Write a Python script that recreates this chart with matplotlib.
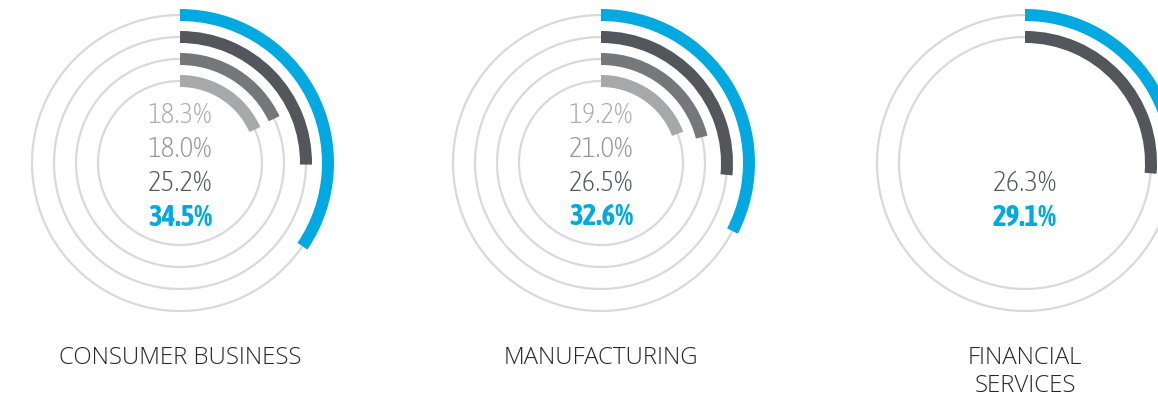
import matplotlib
matplotlib.use("Agg")
import matplotlib.pyplot as plt
import numpy as np

# data: one entry per panel, rings listed from outermost to innermost
categories = ["CONSUMER BUSINESS", "MANUFACTURING", "FINANCIAL\nSERVICES"]
consumer_vals = [34.5, 25.2, 18.0, 18.3]
manufacturing_vals = [32.6, 26.5, 21.0, 19.2]
financial_vals = [29.1, 26.3]
panel_vals = [consumer_vals, manufacturing_vals, financial_vals]

ring_colors = ["#00a9e0", "#53565a", "#75787b", "#a7a8aa"]
text_colors = ["#00a9e0", "#53565a", "#939598", "#abacae"]
TRACK = "#d9d9d9"
LABEL = "#262626"

W, H = 1158, 406
centers_x = [180, 601, 1025]
CY = 164
RMAX = 160
radii = [148, 126, 104, 82]
BAND = 12
LINE_STEP = 33.7

fig = plt.figure(figsize=(W / 100, H / 100), dpi=100)
fig.patch.set_facecolor("white")

pct_font = ["Asap Condensed", "Roboto Condensed", "DejaVu Sans"]
label_font = ["Open Sans", "DejaVu Sans"]

for cx, vals, name in zip(centers_x, panel_vals, categories):
    rect = [(cx - RMAX) / W, (H - CY - RMAX) / H, 2 * RMAX / W, 2 * RMAX / H]
    ax = fig.add_axes(rect, projection="polar")
    ax.set_theta_zero_location("N")
    ax.set_theta_direction(-1)
    ax.set_ylim(0, RMAX)
    ax.axis("off")

    theta = np.linspace(0, 2 * np.pi, 400)
    n = len(vals)
    for i, v in enumerate(vals):
        r = radii[i]
        ax.plot(theta, np.full_like(theta, r), color=TRACK, lw=1.6, zorder=1)
        ax.barh(r, v / 100 * 2 * np.pi, left=0, height=BAND,
                color=ring_colors[i], align="center", zorder=2)

    # percentage stack: innermost value on top, outermost (blue, bold) at bottom
    bottom_y = 217
    for i in range(n):
        y_px = bottom_y - i * LINE_STEP
        ax.text(0.5, 0.5 + (CY - y_px) / (2 * RMAX), f"{vals[i]:.1f}%",
                transform=ax.transAxes, ha="center", va="center",
                fontsize=21, family=pct_font, color=text_colors[i],
                fontweight="bold" if i == 0 else "light")

    fig.text(cx / W, 1 - 346 / H, name, ha="center", va="top",
             fontsize=17.3, family=label_font, fontweight="light",
             color=LABEL, linespacing=1.2)

fig.savefig("out.png", dpi=100, facecolor="white")
